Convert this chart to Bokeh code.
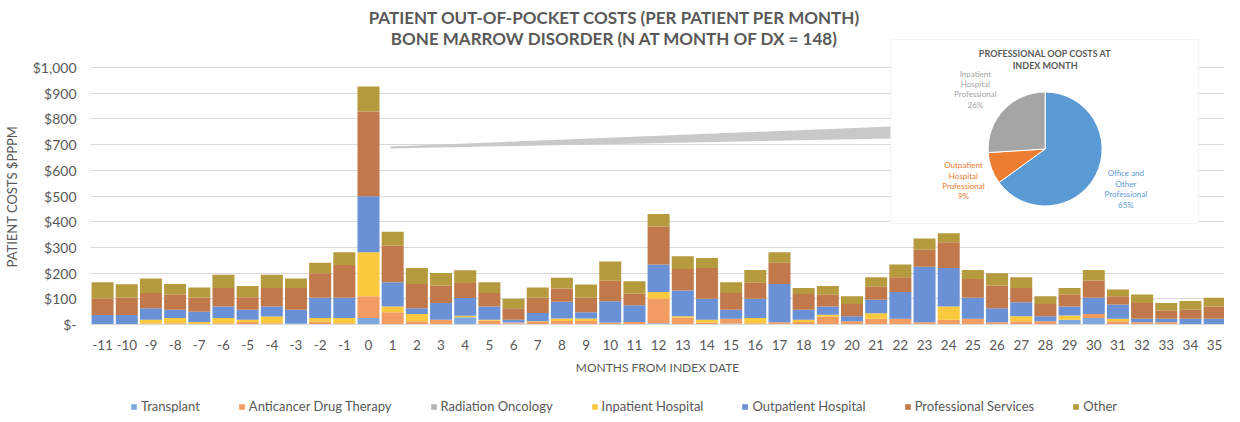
import math
from bokeh.plotting import figure
from bokeh.layouts import column
from bokeh.models import (ColumnDataSource, FixedTicker, Legend, LegendItem, Label,
                          BoxAnnotation, Range1d)
from bokeh.embed import file_html
from bokeh.resources import INLINE

# ---------------- data ----------------
months = list(range(-11, 36))
month_labels = [str(m) for m in months]

transplant   = [0, 0, 0, 0, 0, 0, 0, 0, 5, 0, 0, 25, 0, 0, 0, 28, 0, 0, 0, 0, 0, 0, 0, 5,
                0, 0, 4, 0, 0, 0, 0, 0, 0, 0, 0, 0, 0, 0, 0, 0, 18, 25, 0, 0, 0, 0, 0]
anticancer   = [0, 0, 4, 5, 2, 5, 10, 5, 0, 11, 5, 85, 48, 13, 18, 0, 15, 5, 10, 14, 14, 8, 10, 95,
                26, 8, 18, 5, 9, 10, 30, 13, 22, 22, 9, 18, 22, 9, 13, 13, 0, 16, 13, 9, 9, 0, 0]
radiation    = [0, 0, 0, 0, 0, 0, 0, 0, 0, 0, 0, 0, 0, 0, 0, 0, 0, 4, 0, 0, 0, 0, 0, 0,
                0, 0, 0, 0, 0, 0, 0, 0, 0, 0, 0, 0, 0, 0, 0, 0, 0, 0, 0, 0, 0, 0, 0]
inpatient    = [0, 0, 14, 20, 8, 20, 8, 26, 0, 14, 20, 171, 22, 28, 0, 6, 3, 0, 3, 9, 9, 0, 0, 26,
                6, 10, 0, 20, 0, 8, 8, 0, 22, 0, 0, 52, 0, 0, 19, 0, 17, 0, 9, 0, 0, 0, 0]
outpatient   = [37, 37, 45, 32, 40, 45, 39, 39, 52, 79, 79, 218, 94, 22, 66, 69, 52, 9, 32, 66, 25, 82, 65, 107,
                100, 82, 35, 75, 149, 39, 32, 19, 52, 104, 216, 150, 82, 54, 55, 19, 35, 63, 56, 13, 13, 22, 22]
professional = [63, 68, 60, 60, 55, 72, 49, 72, 85, 95, 128, 330, 143, 95, 68, 58, 53, 45, 59, 51, 56, 80, 45, 148,
                84, 120, 66, 62, 82, 62, 47, 48, 52, 58, 66, 100, 73, 89, 55, 48, 47, 67, 32, 62, 32, 35, 48]
other        = [64, 52, 56, 41, 39, 52, 44, 52, 37, 41, 49, 97, 54, 62, 48, 50, 41, 37, 40, 42, 52, 75, 48, 49,
                50, 39, 41, 50, 41, 23, 33, 30, 36, 49, 44, 35, 35, 47, 42, 30, 25, 41, 26, 33, 30, 34, 34]

series_keys = ["transplant", "anticancer", "radiation", "inpatient", "outpatient", "professional", "other"]
series_names = ["Transplant", "Anticancer Drug Therapy", "Radiation Oncology", "Inpatient Hospital",
                "Outpatient Hospital", "Professional Services", "Other"]
series_values = [transplant, anticancer, radiation, inpatient, outpatient, professional, other]
series_colors = ["#7ea8dc", "#f29c62", "#b3b3b3", "#fbc93d", "#6a90d5", "#c1784b", "#b59a3e"]

y_ticks = [0, 100, 200, 300, 400, 500, 600, 700, 800, 900, 1000]
y_tick_labels = ["$-", "$100", "$200", "$300", "$400", "$500", "$600", "$700", "$800", "$900", "$1,000"]

title_lines = ["PATIENT OUT-OF-POCKET COSTS (PER PATIENT PER MONTH)",
               "BONE MARROW DISORDER (N AT MONTH OF DX = 148)"]
x_title = "MONTHS FROM INDEX DATE"
y_title = "PATIENT COSTS $PPPM"

pie_title_lines = ["PROFESSIONAL OOP COSTS AT", "INDEX MONTH"]
pie_names = [["Office and", "Other", "Professional"],
             ["Outpatient", "Hospital", "Professional"],
             ["Inpatient", "Hospital", "Professional"]]
pie_values = [65, 9, 26]
pie_colors = ["#5b9bd5", "#ed7d31", "#a5a5a5"]

# ---------------- geometry ----------------
FONT = "Lato"
TXT = "#595959"
W = 1224
AXIS_Y = 324                      # pixel row of the value axis (0) in the picture
H_MAIN, H_LEG = 384, 30
LEFT, RIGHT, TOP, BOTTOM = 86, 0, 0, H_MAIN - AXIS_Y
FRAME_W = W - LEFT - RIGHT
FRAME_H = H_MAIN - TOP - BOTTOM   # value 1000 sits 257 px above the axis
PITCH = 24.26
X0 = -11.5
X1 = X0 + FRAME_W / PITCH
Y0 = 0
Y1 = 1000 * FRAME_H / 257.0
OFF_X, OFF_Y = 8, 0               # canvas position inside the page


def dx(px):  # picture pixel -> data x
    return X0 + (px - OFF_X - LEFT) / PITCH


def dy(py):  # picture pixel -> data y
    return Y0 + (TOP + FRAME_H - (py - OFF_Y)) / FRAME_H * (Y1 - Y0)


p = figure(width=W, height=H_MAIN, x_range=Range1d(X0, X1), y_range=Range1d(Y0, Y1),
           output_backend="svg", toolbar_location=None,
           min_border_left=LEFT, min_border_right=RIGHT, min_border_top=TOP, min_border_bottom=BOTTOM)
p.outline_line_color = None
p.background_fill_color = "white"
p.border_fill_color = "white"

# bars
src = ColumnDataSource(dict(month=months, **{k: v for k, v in zip(series_keys, series_values)}))
renderers = p.vbar_stack(series_keys, x="month", width=0.91, color=series_colors,
                         line_color=None, source=src)

# axes
xa = p.xaxis[0]
xa.ticker = FixedTicker(ticks=months)
xa.major_label_overrides = {m: l for m, l in zip(months, month_labels)}
xa.axis_line_color = "#d9d9d9"
xa.major_tick_line_color = None
xa.minor_tick_line_color = None
xa.major_label_standoff = 9
xa.major_label_text_font = FONT
xa.major_label_text_font_size = "13.5px"
xa.major_label_text_color = TXT
xa.axis_label = x_title
xa.axis_label_standoff = 7
xa.axis_label_text_font = FONT
xa.axis_label_text_font_size = "12px"
xa.axis_label_text_font_style = "normal"
xa.axis_label_text_color = TXT

ya = p.yaxis[0]
ya.ticker = FixedTicker(ticks=y_ticks)
ya.major_label_overrides = {t: l for t, l in zip(y_ticks, y_tick_labels)}
ya.axis_line_color = None
ya.major_tick_line_color = None
ya.minor_tick_line_color = None
ya.major_tick_out = 0
ya.major_tick_in = 0
ya.minor_tick_out = 0
ya.major_label_standoff = 14
ya.major_label_text_font = FONT
ya.major_label_text_font_size = "14px"
ya.major_label_text_color = TXT
# the frame reaches to the top of the canvas; trailing em spaces keep the visible
# label centred on the 0..1000 value band as in the reference
ya.axis_label = y_title + "\u2003" * 7
ya.axis_label_standoff = 10
ya.axis_label_text_font = FONT
ya.axis_label_text_font_size = "13px"
ya.axis_label_text_font_style = "normal"
ya.axis_label_text_color = TXT

p.xgrid.visible = False
p.ygrid.ticker = FixedTicker(ticks=y_ticks)
p.ygrid.grid_line_color = "#d9d9d9"

# connector from the month-0 bar to the inset
p.patch(x=[dx(395), dx(897), dx(897), dx(395)],
        y=[dy(148), dy(138), dy(126), dy(146)],
        fill_color="#c9c9c9", line_color=None)

# inset box
p.add_layout(BoxAnnotation(left=dx(897), right=dx(1206), top=dy(39), bottom=dy(223),
                           fill_color="white", fill_alpha=1.0,
                           line_color="#d9d9d9", line_width=1))

# pie (clockwise from 12 o'clock, as in the inset)
total = sum(pie_values)
starts, ends, acc = [], [], 0
for v in pie_values:
    starts.append(math.pi / 2 - 2 * math.pi * acc / total)
    acc += v
    ends.append(math.pi / 2 - 2 * math.pi * acc / total)
cx, cy = dx(1052), dy(148.5)
p.wedge(x=[cx] * 3, y=[cy] * 3, radius=57, radius_units="screen",
        start_angle=starts, end_angle=ends, direction="clock",
        fill_color=pie_colors, line_color="white", line_width=1, level="overlay")

# titles
for line, py in zip(title_lines, [17, 38]):
    p.add_layout(Label(x=dx(620), y=dy(py), text=line, text_align="center", text_baseline="middle",
                       text_font=FONT, text_font_size="17px", text_font_style="bold",
                       text_color=TXT))
for line, py in zip(pie_title_lines, [53, 65]):
    p.add_layout(Label(x=dx(1052), y=dy(py), text=line, text_align="center", text_baseline="middle",
                       text_font=FONT, text_font_size="9px", text_font_style="bold",
                       text_color=TXT))

label_pos = [(1133, [172, 183, 193.5, 204]),
             (970, [164, 175, 185, 195.5]),
             (982, [73, 83, 93.5, 104])]
for words, v, col, (px, pys) in zip(pie_names, pie_values, pie_colors, label_pos):
    for line, py in zip(words + [f"{v}%"], pys):
        p.add_layout(Label(x=dx(px), y=dy(py), text=line, text_align="center",
                           text_baseline="middle", text_font=FONT, text_font_size="8px",
                           text_color=col))

# ---------------- legend strip under the chart ----------------
pl = figure(width=W, height=H_LEG, x_range=Range1d(0, 1), y_range=Range1d(0, 1),
            output_backend="svg", toolbar_location=None, x_axis_location=None, y_axis_location=None,
            min_border_left=0, min_border_right=0, min_border_top=0, min_border_bottom=0)
pl.outline_line_color = None
pl.grid.visible = False
# zero-height swatch renderers: they only lend their colours to the legend
swatches = [pl.vbar(x=[0.5], bottom=[0], top=[0], width=0.01, color=c, line_color=None)
            for c in series_colors]
legend = Legend(items=[LegendItem(label=n, renderers=[r]) for n, r in zip(series_names, swatches)],
                orientation="horizontal", location=(40, 0), margin=0, padding=0,
                glyph_width=7, glyph_height=7, label_standoff=4, spacing=38,
                label_height=12, label_text_font=FONT, label_text_font_size="13px",
                label_text_color=TXT, border_line_color=None, background_fill_alpha=0)
pl.add_layout(legend, "center")

open("out.html", "w").write(file_html(column(p, pl, spacing=0), INLINE))
